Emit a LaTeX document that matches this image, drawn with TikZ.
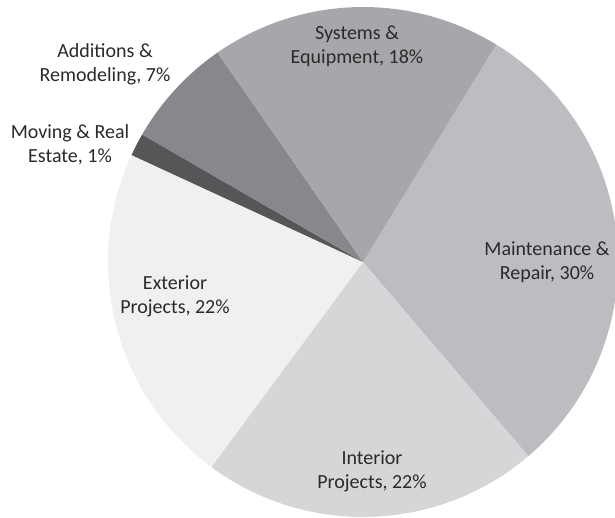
\documentclass[tikz,border=0pt]{standalone}
\usepackage{fontspec}
\setmainfont{Carlito}
\usepackage{tikz}
\usetikzlibrary{positioning}

\definecolor{systemsGray}{HTML}{A6A7AA}
\definecolor{maintenanceGray}{HTML}{BCBDC0}
\definecolor{interiorGray}{HTML}{D5D6D8}
\definecolor{exteriorGray}{HTML}{F0F0F0}
\definecolor{movingGray}{HTML}{555658}
\definecolor{additionsGray}{HTML}{87888B}
\definecolor{textGray}{HTML}{2A2A2A}

\begin{document}
\begin{tikzpicture}
      [x=1pt, y=1pt, font=\fontsize{20}{24}\selectfont,
      % STYLES
      % The slice style is used to fill each part of the pie
      slice/.style={draw=none},
      % The sliceLabel style is used to write the name and share of each part
      sliceLabel/.style={align=center, inner sep=0pt, text=textGray}]

      \useasboundingbox (0,0) rectangle (615,517);
      \coordinate (center) at (363,255);

      % Draw slices
      \fill [slice, fill=maintenanceGray] (center) -- ++(58.5:255) arc[start angle=58.5, end angle=-49.6, radius=255] -- cycle;
      \fill [slice, fill=interiorGray] (center) -- ++(-49.6:255) arc[start angle=-49.6, end angle=-126.5, radius=255] -- cycle;
      \fill [slice, fill=exteriorGray] (center) -- ++(-126.5:255) arc[start angle=-126.5, end angle=-204.8, radius=255] -- cycle;
      \fill [slice, fill=movingGray] (center) -- ++(155.2:255) arc[start angle=155.2, end angle=150, radius=255] -- cycle;
      \fill [slice, fill=additionsGray] (center) -- ++(150:255) arc[start angle=150, end angle=124.8, radius=255] -- cycle;
      \fill [slice, fill=systemsGray] (center) -- ++(124.8:255) arc[start angle=124.8, end angle=58.5, radius=255] -- cycle;

      %%%%%%%%%%%%%%%
      % Labels
      \node [sliceLabel] (systemsLabel) at (357,471) {Systems \&\\Equipment, 18\%};
      \node [sliceLabel] (maintenanceLabel) at (547,255) {Maintenance \&\\Repair, 30\%};
      \node [sliceLabel] (interiorLabel) at (372,46) {Interior\\Projects, 22\%};
      \node [sliceLabel] (exteriorLabel) at (175,221) {Exterior\\Projects, 22\%};
      \node [sliceLabel] (additionsLabel) at (105,453) {Additions \&\\Remodeling, 7\%};
      \node [sliceLabel] (movingLabel) at (70,372.5) {Moving \& Real\\Estate, 1\%};

    \end{tikzpicture}
\end{document}
